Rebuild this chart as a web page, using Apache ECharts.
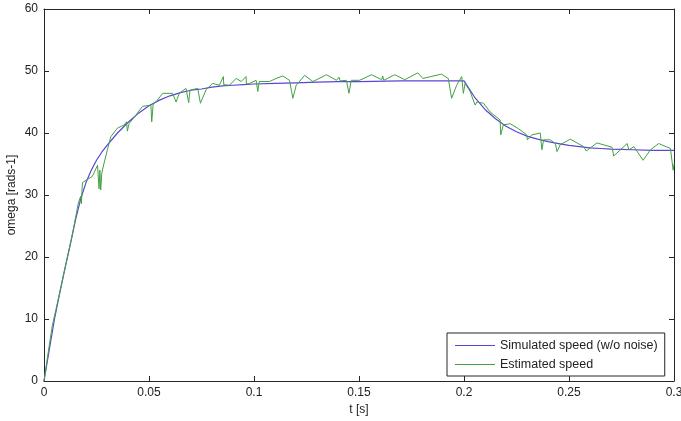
<!DOCTYPE html>
<html>
<head>
<meta charset="utf-8">
<script src="https://cdn.jsdelivr.net/npm/echarts@6/dist/echarts.min.js"></script>
<style>
  html, body { margin: 0; padding: 0; background: #fff; }
  #chart { width: 681px; height: 421px; }
</style>
</head>
<body>
<div id="chart"></div>
<script>
  // axis ticks
  const xTicks = [0, 0.05, 0.1, 0.15, 0.2, 0.25, 0.3];
  const yTicks = [0, 10, 20, 30, 40, 50, 60];

  // simulated speed (w/o noise): [t, omega]
  const simulated = [
    [0, 0], [0.0025, 5], [0.005, 10], [0.0075, 14.2], [0.01, 18.2], [0.0125, 22],
    [0.015, 26.0], [0.0175, 29.4], [0.02, 32.0], [0.0225, 34.0], [0.025, 35.6],
    [0.0275, 36.9], [0.03, 38.0], [0.035, 40.0], [0.04, 41.7], [0.045, 43.2],
    [0.05, 44.4], [0.055, 45.3], [0.06, 46.0], [0.065, 46.5], [0.07, 46.9],
    [0.075, 47.1], [0.08, 47.4], [0.085, 47.6], [0.09, 47.7], [0.095, 47.8],
    [0.1, 47.9], [0.11, 48.0], [0.12, 48.1], [0.13, 48.2], [0.14, 48.3],
    [0.15, 48.3], [0.17, 48.4], [0.2, 48.4], [0.205, 45.8], [0.21, 43.8],
    [0.215, 42.3], [0.22, 41.1], [0.225, 40.2], [0.23, 39.5], [0.235, 39.0],
    [0.24, 38.6], [0.245, 38.3], [0.25, 38.0], [0.255, 37.8], [0.26, 37.6],
    [0.265, 37.5], [0.27, 37.4], [0.275, 37.35], [0.28, 37.3], [0.29, 37.2],
    [0.3, 37.2]
  ];

  // estimated speed: [t, omega]
  const estimated = [
    [0, 0], [0.002, 4.6], [0.004, 9.0], [0.0072, 13.8], [0.0104, 18.8], [0.0135, 23.6],
    [0.0164, 28.8], [0.0175, 29.8], [0.0178, 28.6], [0.0183, 32.0], [0.023, 33.0],
    [0.0255, 34.8], [0.0262, 31.0], [0.0266, 34.0], [0.027, 30.8], [0.0275, 33.5],
    [0.0285, 35.0], [0.0302, 37.3], [0.0318, 39.4], [0.035, 40.8], [0.0382, 41.3],
    [0.0393, 41.8], [0.0397, 40.3], [0.0405, 41.5], [0.0438, 42.9], [0.0469, 44.3],
    [0.0509, 44.5], [0.0513, 41.8], [0.052, 44.7], [0.0533, 45.0], [0.0565, 46.4],
    [0.0612, 46.4], [0.0629, 45.0], [0.0644, 46.4], [0.0676, 47.2], [0.0689, 44.9],
    [0.0695, 46.9], [0.0732, 47.2], [0.0745, 44.8], [0.0772, 47.0], [0.0803, 48.0],
    [0.0835, 47.7], [0.0854, 49.1], [0.0856, 47.8], [0.0883, 47.7], [0.0915, 48.8],
    [0.0939, 48.3], [0.0962, 49.1], [0.0964, 47.9], [0.0979, 48.0], [0.101, 48.5],
    [0.1018, 46.7], [0.1025, 48.3], [0.1074, 48.3], [0.1105, 48.8], [0.1137, 49.2],
    [0.1169, 48.5], [0.1185, 45.6], [0.1201, 47.7], [0.1241, 49.3], [0.1281, 48.3],
    [0.1345, 49.4], [0.1393, 48.5], [0.1405, 49.0], [0.141, 48.4], [0.144, 48.5],
    [0.1452, 46.4], [0.1463, 48.5], [0.1503, 48.5], [0.156, 49.4], [0.1608, 48.6],
    [0.1613, 49.2], [0.1618, 48.5], [0.167, 49.4], [0.1718, 48.6], [0.178, 49.7],
    [0.1804, 48.8], [0.1893, 49.5], [0.1925, 48.8], [0.1941, 45.6], [0.1965, 47.7],
    [0.1989, 49.1], [0.1997, 46.4], [0.2005, 48.0], [0.2029, 46.7], [0.2053, 44.5],
    [0.2061, 45.0], [0.2093, 44.8], [0.2124, 43.4], [0.2172, 42.1], [0.2175, 39.7],
    [0.2187, 41.3], [0.222, 41.5], [0.2259, 40.7], [0.2299, 39.7], [0.2302, 38.9],
    [0.2323, 39.7], [0.2363, 40.0], [0.2371, 37.3], [0.2379, 38.9], [0.2411, 38.9],
    [0.2435, 38.3], [0.2443, 37.0], [0.2458, 38.1], [0.2506, 39.0], [0.257, 37.8],
    [0.2582, 37.1], [0.2633, 38.4], [0.2705, 37.7], [0.2713, 36.3], [0.2777, 38.3],
    [0.2785, 37.3], [0.2809, 37.8], [0.2853, 35.6], [0.2888, 37.3], [0.2927, 38.3],
    [0.2983, 37.5], [0.2996, 34.0], [0.3, 35.0]
  ];

  const font = 'Liberation Sans, Arial, sans-serif';
  const axisColor = '#262626';

  const chart = echarts.init(document.getElementById('chart'));

  const baseX = {
    type: 'value',
    min: xTicks[0],
    max: xTicks[xTicks.length - 1],
    interval: 0.05,
    splitLine: { show: false },
    axisLine: { onZero: false, lineStyle: { color: axisColor, width: 1 } },
    axisTick: { inside: true, length: 5, lineStyle: { color: axisColor } }
  };
  const baseY = {
    type: 'value',
    min: yTicks[0],
    max: yTicks[yTicks.length - 1],
    interval: 10,
    splitLine: { show: false },
    axisLine: { onZero: false, lineStyle: { color: axisColor, width: 1 } },
    axisTick: { inside: true, length: 5, lineStyle: { color: axisColor } }
  };

  chart.setOption({
    animation: false,
    backgroundColor: '#fff',
    grid: { left: 44, right: 7, top: 9, bottom: 40, containLabel: false, outerBoundsMode: 'none' },
    xAxis: [
      Object.assign({}, baseX, {
        position: 'bottom',
        name: 't [s]',
        nameLocation: 'middle',
        nameGap: 22,
        nameTextStyle: { fontFamily: font, fontSize: 12, color: '#222' },
        axisLabel: { fontFamily: font, fontSize: 12, color: '#222', margin: 6 }
      }),
      Object.assign({}, baseX, { position: 'top', axisLabel: { show: false } })
    ],
    yAxis: [
      Object.assign({}, baseY, {
        position: 'left',
        name: 'omega [rads-1]',
        nameLocation: 'middle',
        nameGap: 26,
        nameMoveOverlap: false,
        nameTextStyle: { fontFamily: font, fontSize: 12, color: '#222' },
        axisLabel: { fontFamily: font, fontSize: 12, color: '#222', margin: 6 }
      }),
      Object.assign({}, baseY, { position: 'right', axisLabel: { show: false } })
    ],
    legend: {
      left: 447,
      top: 333,
      orient: 'vertical',
      backgroundColor: '#fff',
      borderColor: axisColor,
      borderWidth: 1,
      borderRadius: 0,
      padding: [6, 7, 5, 8],
      itemGap: 6,
      itemWidth: 40,
      itemHeight: 1,
      icon: 'rect',
      textStyle: { fontFamily: font, fontSize: 12.5, color: '#222' },
      data: ['Simulated speed (w/o noise)', 'Estimated speed']
    },
    series: [
      {
        name: 'Simulated speed (w/o noise)',
        type: 'line',
        data: simulated,
        showSymbol: false,
        color: '#5a46d6',
        lineStyle: { width: 1.2, color: '#5a46d6' },
        z: 2
      },
      {
        name: 'Estimated speed',
        type: 'line',
        data: estimated,
        showSymbol: false,
        color: '#43a043',
        lineStyle: { width: 1, color: '#43a043' },
        z: 3
      }
    ]
  });
</script>
</body>
</html>
